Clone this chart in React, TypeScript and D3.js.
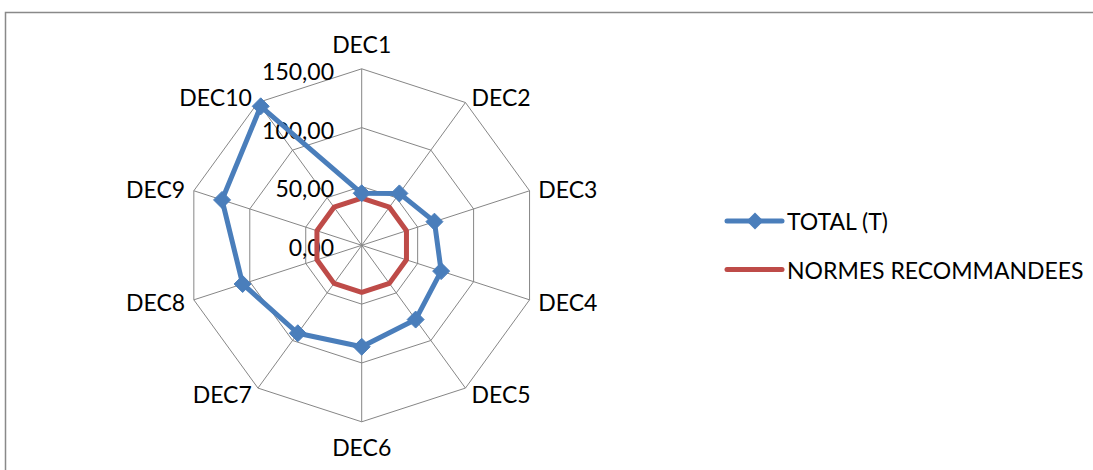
import React from "react";
import * as d3 from "d3";

const categories = ["DEC1", "DEC2", "DEC3", "DEC4", "DEC5", "DEC6", "DEC7", "DEC8", "DEC9", "DEC10"];
const totalValues = [44.2, 54.5, 65, 71, 78, 86.2, 92.4, 106.4, 124.8, 146];
const normesValues = [40, 40, 40, 40, 40, 40, 40, 40, 40, 40];
const tickValues = [0, 50, 100, 150];
const tickLabels = ["0,00", "50,00", "100,00", "150,00"];
const seriesNames = ["TOTAL (T)", "NORMES RECOMMANDEES"];

const W = 1093;
const H = 470;
const cx = 361.7;
const cy = 245.3;
const R = 176.5;
const BLUE = "#4A7EBB";
const RED = "#BE4B48";
const GRID = "#868686";
const FONT = "Lato, 'Open Sans', sans-serif";
const FS = 23;

export default function App() {
  const r = d3.scaleLinear().domain([0, 150]).range([0, R]);
  const n = categories.length;
  const angle = d3.scaleLinear().domain([0, n]).range([0, 2 * Math.PI]);
  const pt = (i: number, v: number): [number, number] => {
    const a = angle(i);
    return [cx + r(v) * Math.sin(a), cy - r(v) * Math.cos(a)];
  };
  const radial = d3
    .lineRadial<number>()
    .angle((_, i) => angle(i))
    .radius((v) => r(v))
    .curve(d3.curveLinearClosed);

  const diamond = (x: number, y: number, s: number) =>
    `M${x},${y - s}L${x + s},${y}L${x},${y + s}L${x - s},${y}Z`;

  return (
    <svg
      width={W}
      height={H}
      style={{ position: "absolute", left: 0, top: 0, background: "#fff" }}
      fontFamily={FONT}
    >
      <rect x={5.5} y={12.5} width={1200} height={600} fill="none" stroke="#898989" strokeWidth={1.5} />
      {/* grid rings */}
      {tickValues.slice(1).map((t) => (
        <path
          key={"ring" + t}
          d={radial(categories.map(() => t)) || ""}
          transform={`translate(${cx},${cy})`}
          fill="none"
          stroke={GRID}
          strokeWidth={1}
        />
      ))}
      {/* spokes */}
      {categories.map((c, i) => {
        const [x, y] = pt(i, 150);
        return <line key={"sp" + c} x1={cx} y1={cy} x2={x} y2={y} stroke={GRID} strokeWidth={1} />;
      })}
      {/* tick labels */}
      {tickValues.map((t, i) => (
        <text
          key={"tk" + t}
          x={334}
          y={cy - r(t) + 2}
          textAnchor="end"
          dominantBaseline="central"
          fontSize={FS}
          fill="#000"
        >
          {tickLabels[i]}
        </text>
      ))}
      {/* category labels */}
      {categories.map((c, i) => {
        const a = angle(i);
        const s = Math.sin(a);
        const co = Math.cos(a);
        if (Math.abs(s) < 0.1) {
          const [x, y] = pt(i, 150);
          return (
            <text
              key={"lb" + c}
              x={x}
              y={co > 0 ? y - 25 : y + 25}
              textAnchor="middle"
              dominantBaseline="central"
              fontSize={FS}
            >
              {c}
            </text>
          );
        }
        const x = cx + (R + 7) * s;
        const y = cy - (R + 7) * co;
        return (
          <text
            key={"lb" + c}
            x={x + (s > 0 ? 2 : -2)}
            y={y}
            textAnchor={s > 0 ? "start" : "end"}
            dominantBaseline="central"
            fontSize={FS}
          >
            {c}
          </text>
        );
      })}
      {/* series */}
      <path
        d={radial(normesValues) || ""}
        transform={`translate(${cx},${cy})`}
        fill="none"
        stroke={RED}
        strokeWidth={5}
        strokeLinejoin="round"
      />
      <path
        d={radial(totalValues) || ""}
        transform={`translate(${cx},${cy})`}
        fill="none"
        stroke={BLUE}
        strokeWidth={5}
        strokeLinejoin="round"
      />
      {totalValues.map((v, i) => {
        const [x, y] = pt(i, v);
        return <path key={"mk" + i} d={diamond(x, y, 8.5)} fill={BLUE} stroke={BLUE} strokeWidth={1} />;
      })}
      {/* legend */}
      <line x1={727} y1={221} x2={782} y2={221} stroke={BLUE} strokeWidth={5} strokeLinecap="round" />
      <path d={diamond(755, 221, 8.5)} fill={BLUE} />
      <text x={787} y={221} dominantBaseline="central" fontSize={FS}>
        {seriesNames[0]}
      </text>
      <line x1={727} y1={269.5} x2={782} y2={269.5} stroke={RED} strokeWidth={5} strokeLinecap="round" />
      <text x={787} y={269.5} dominantBaseline="central" fontSize={FS}>
        {seriesNames[1]}
      </text>
    </svg>
  );
}
